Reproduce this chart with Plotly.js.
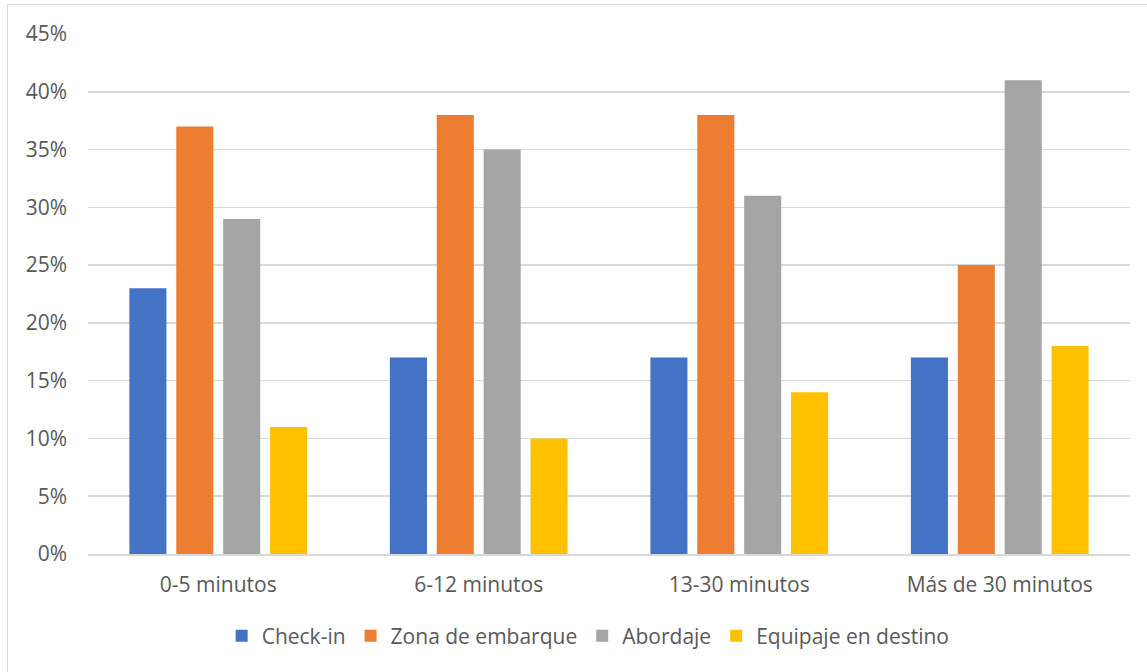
<!DOCTYPE html>
<html>
<head>
<meta charset="utf-8">
<script src="https://cdn.plot.ly/plotly-3.0.1.min.js"></script>
<style>
  html, body { margin: 0; padding: 0; background: #fff; overflow: hidden; }
  #frame { position: absolute; left: 7px; top: 4px; width: 1160px; height: 690px; border: 1px solid #d9d9d9; box-sizing: border-box; }
  #chart { position: absolute; left: 0; top: 0; width: 1147px; height: 672px; }
</style>
</head>
<body>
<div id="frame"></div>
<div id="chart"></div>
<script>
// Tiempo de espera por zona
const categories = ['0-5 minutos', '6-12 minutos', '13-30 minutos', 'Más de 30 minutos'];
const checkIn = [0.23, 0.17, 0.17, 0.17];
const zonaEmbarque = [0.37, 0.38, 0.38, 0.25];
const abordaje = [0.29, 0.35, 0.31, 0.41];
const equipaje = [0.11, 0.10, 0.14, 0.18];
const seriesNames = ['Check-in', 'Zona de embarque', 'Abordaje', 'Equipaje en destino'];
const seriesColors = ['#4472c4', '#ed7d31', '#a5a5a5', '#ffc000'];
const yTicks = [0, 0.05, 0.10, 0.15, 0.20, 0.25, 0.30, 0.35, 0.40, 0.45];

const values = [checkIn, zonaEmbarque, abordaje, equipaje];
const traces = values.map((v, i) => ({
  type: 'bar',
  name: seriesNames[i],
  x: categories,
  y: v,
  marker: { color: seriesColors[i], line: { width: 0 } },
  hoverinfo: 'none'
}));

const font = { family: 'Open Sans, Liberation Sans, sans-serif', size: 21, color: '#595959' };

const layout = {
  width: 1147,
  height: 672,
  margin: { l: 88, r: 17, t: 34, b: 118 },
  paper_bgcolor: 'rgba(0,0,0,0)',
  plot_bgcolor: 'rgba(0,0,0,0)',
  font: font,
  barmode: 'group',
  bargap: 0.28,
  bargroupgap: 0.21,
  showlegend: true,
  legend: {
    orientation: 'h',
    x: 0.48, xanchor: 'center',
    y: -0.158, yanchor: 'middle',
    font: font,
    itemwidth: 30,
    traceorder: 'normal'
  },
  xaxis: {
    type: 'category',
    showgrid: false,
    showline: true,
    linecolor: '#d9d9d9',
    linewidth: 1.5,
    ticks: '',
    ticklabelstandoff: 11,
    tickfont: font,
    zeroline: false
  },
  yaxis: {
    range: [0, 0.45],
    tickvals: yTicks,
    tickformat: '.0%',
    showgrid: true,
    gridcolor: '#d9d9d9',
    gridwidth: 1.5,
    showline: false,
    zeroline: false,
    ticks: '',
    ticklabelstandoff: 20,
    tickfont: font
  }
};

Plotly.newPlot('chart', traces, layout, { displayModeBar: false, staticPlot: true });
</script>
</body>
</html>
